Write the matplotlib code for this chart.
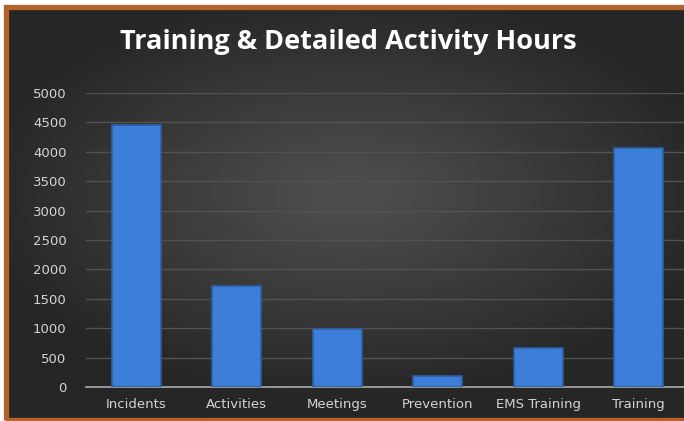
import numpy as np
import matplotlib.pyplot as plt
from matplotlib.patches import Rectangle
from matplotlib.colors import LinearSegmentedColormap

# data
categories = ["Incidents", "Activities", "Meetings", "Prevention", "EMS Training", "Training"]
hours = [4450, 1710, 980, 190, 660, 4060]
yticks = [0, 500, 1000, 1500, 2000, 2500, 3000, 3500, 4000, 4500, 5000]

W, H = 684, 421
fig = plt.figure(figsize=(W / 100, H / 100), dpi=100)
fig.patch.set_facecolor("white")

# dark radial background
bg = fig.add_axes([8 / W, 0, 1, (H - 9) / H])
yy, xx = np.mgrid[-1:1:200j, -1:1:300j]
r = np.sqrt((xx * 0.9) ** 2 + ((yy + 0.1) * 1.0) ** 2)
bg.imshow(np.clip(1 - r, 0, 1), cmap=LinearSegmentedColormap.from_list("g", ["#262626", "#4c4c4c"]),
          aspect="auto", extent=[0, 1, 0, 1], vmin=0, vmax=0.9)
bg.axis("off")

# orange frame (right side runs off the picture)
fig.patches.append(Rectangle((5.5 / W, 1.5 / H), 1.2, (H - 8.5) / H, transform=fig.transFigure,
                             fill=False, edgecolor="#b5622a", linewidth=3.8, zorder=5))

ax = fig.add_axes([86 / W, 34 / H, 603 / W, 294 / H])
ax.set_facecolor("none")
x = np.arange(len(categories))
ax.bar(x, hours, width=0.49, color="#3c7ed8", edgecolor="#2b5fa6", linewidth=1.2, zorder=3)
ax.set_xlim(-0.5, len(categories) - 0.5)
ax.set_ylim(0, 5000)
ax.set_yticks(yticks)
ax.set_xticks(x)
ax.set_xticklabels(categories)
ax.grid(axis="y", color="#525252", linewidth=1, zorder=0)
ax.tick_params(length=0, colors="#d4d4d4", labelsize=9.5)
ax.tick_params(axis="y", pad=14)
ax.tick_params(axis="x", pad=8)
for s in ["top", "right", "left"]:
    ax.spines[s].set_visible(False)
ax.spines["bottom"].set_color("#a0a0a0")
ax.spines["bottom"].set_linewidth(1.3)

fig.text(348 / W, 1 - 42 / H, "Training & Detailed Activity Hours", ha="center", va="center",
         color="white", fontsize=19.5, fontweight="bold", family="Open Sans")

fig.savefig("out.png", dpi=100)
